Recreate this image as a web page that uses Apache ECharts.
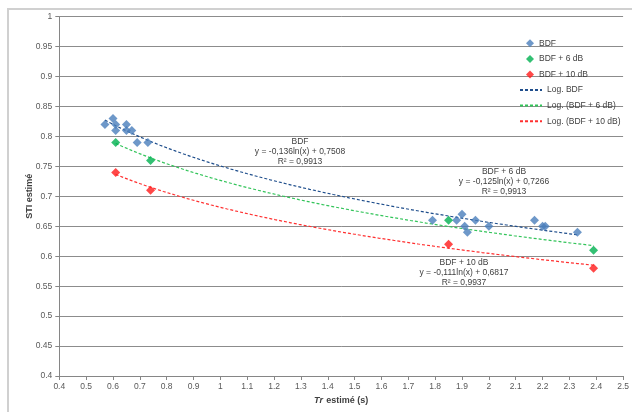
<!DOCTYPE html>
<html><head><meta charset="utf-8">
<script src="https://cdn.jsdelivr.net/npm/echarts@6/dist/echarts.min.js"></script>
<style>html,body{margin:0;padding:0;background:#fff}#c{width:632px;height:412px}</style>
</head><body><div id="c"></div>
<script>
// Data
const bdfX  = [0.57,0.60,0.61,0.61,0.65,0.65,0.67,0.69,0.73,1.79,1.88,1.90,1.91,1.92,1.95,2.00,2.17,2.20,2.21,2.33];
const bdfY  = [0.82,0.83,0.82,0.81,0.82,0.81,0.81,0.79,0.79,0.66,0.66,0.67,0.65,0.64,0.66,0.65,0.66,0.65,0.65,0.64];
const bdf6X = [0.61,0.74,1.85,2.39];
const bdf6Y = [0.79,0.76,0.66,0.61];
const bdf10X = [0.61,0.74,1.85,2.39];
const bdf10Y = [0.74,0.71,0.62,0.58];
// trendline coefficients as printed in the chart: y = a ln(x) + b
const trendA = [-0.136,-0.125,-0.111];
const trendB = [0.7508,0.7266,0.6817];
const seriesNames = ['BDF','BDF + 6 dB','BDF + 10 dB'];
const trendNames = ['Log. BDF','Log. (BDF + 6 dB)','Log. (BDF + 10 dB)'];
const eqTexts = [
  ['BDF','y = -0,136ln(x) + 0,7508','R² = 0,9913'],
  ['BDF + 6 dB','y = -0,125ln(x) + 0,7266','R² = 0,9913'],
  ['BDF + 10 dB','y = -0,111ln(x) + 0,6817','R² = 0,9937']
];

const pointColors = ['#4a7ebb','#00b050','#ff1a1a'];
const trendColors = ['#1f4e8c','#33c45a','#ff3030'];

function pairs(xs, ys){ return xs.map((x,i)=>[x, ys[i]]); }
function trend(k, xs){
  const lo = Math.min(...xs), hi = Math.max(...xs), n = 60, out = [];
  for (let i=0;i<=n;i++){ const x = lo + (hi-lo)*i/n; out.push([x, trendA[k]*Math.log(x)+trendB[k]]); }
  return out;
}
const xsets = [bdfX, bdf6X, bdf10X];
const ysets = [bdfY, bdf6Y, bdf10Y];

const series = [];
for (let k=0;k<3;k++){
  series.push({name: seriesNames[k], type:'scatter', symbol:'diamond', symbolSize:9,
    itemStyle:{color: pointColors[k]}, data: pairs(xsets[k], ysets[k]), z:3});
}
for (let k=0;k<3;k++){
  series.push({name: trendNames[k], type:'line', symbol:'none', smooth:false,
    lineStyle:{color: trendColors[k], width:1.2, type:[3,2]}, itemStyle:{color: trendColors[k]},
    data: trend(k, xsets[k]), z:2, silent:true});
}

const chart = echarts.init(document.getElementById('c'), null, {renderer:'canvas'});
const FONT = 'Liberation Sans, Arial, sans-serif';
const eqPos = [[300,137],[504,167],[464,258]];
const graphics = [{type:'rect', shape:{x:8,y:9,width:630,height:410}, style:{fill:'none', stroke:'#d0d0d0', lineWidth:2}, silent:true}];
eqTexts.forEach((t,k)=>{
  graphics.push({type:'text', x:eqPos[k][0], y:eqPos[k][1],
    style:{text:t.join('\n'), fill:'#404040', font:'8.5px '+FONT, align:'center', verticalAlign:'top', lineHeight:10}});
});

const legendText = {fontSize:8.5, color:'#404040', fontFamily:FONT};
chart.setOption({
  backgroundColor:'#fff',
  animation:false,
  grid:{left:59.3, right:6, top:16.7, bottom:34.7},
  legend:[
    {orient:'vertical', left:526, top:38.8, padding:0, itemWidth:8, itemHeight:8, itemGap:6.6, itemTextGap:9,
     textStyle:legendText, data:seriesNames},
    {orient:'vertical', left:519, top:85.5, padding:0, itemWidth:22, itemHeight:8, itemGap:6.6, itemTextGap:2,
     itemStyle:{color:'rgba(0,0,0,0)', borderWidth:0, opacity:0},
     textStyle:legendText, data:trendNames}
  ],
  xAxis:{type:'value', min:0.4, max:2.5, interval:0.1,
    axisLine:{lineStyle:{color:'#868686'}}, axisTick:{show:true, length:4, lineStyle:{color:'#868686'}},
    splitLine:{show:false},
    axisLabel:{fontSize:8.5, color:'#595959', margin:6, fontFamily:FONT},
    name:'{i|Tr} {b|estimé (s)}', nameLocation:'middle', nameGap:19, nameMoveOverlap:false,
    nameTextStyle:{rich:{i:{fontStyle:'italic', fontWeight:'bold', fontSize:9, color:'#404040', fontFamily:FONT},
                         b:{fontWeight:'bold', fontSize:9, color:'#404040', fontFamily:FONT}}}},
  yAxis:{type:'value', min:0.4, max:1, interval:0.05,
    axisLine:{show:true, lineStyle:{color:'#868686'}}, axisTick:{show:true, length:4, lineStyle:{color:'#868686'}},
    splitLine:{show:true, lineStyle:{color:'#8c8c8c', width:1}},
    axisLabel:{fontSize:8.5, color:'#595959', margin:7, fontFamily:FONT},
    name:'STI estimé', nameLocation:'middle', nameGap:25, nameMoveOverlap:false,
    nameTextStyle:{fontWeight:'bold', fontSize:9, color:'#404040', fontFamily:FONT}},
  series: series,
  graphic: graphics
});
</script></body></html>
